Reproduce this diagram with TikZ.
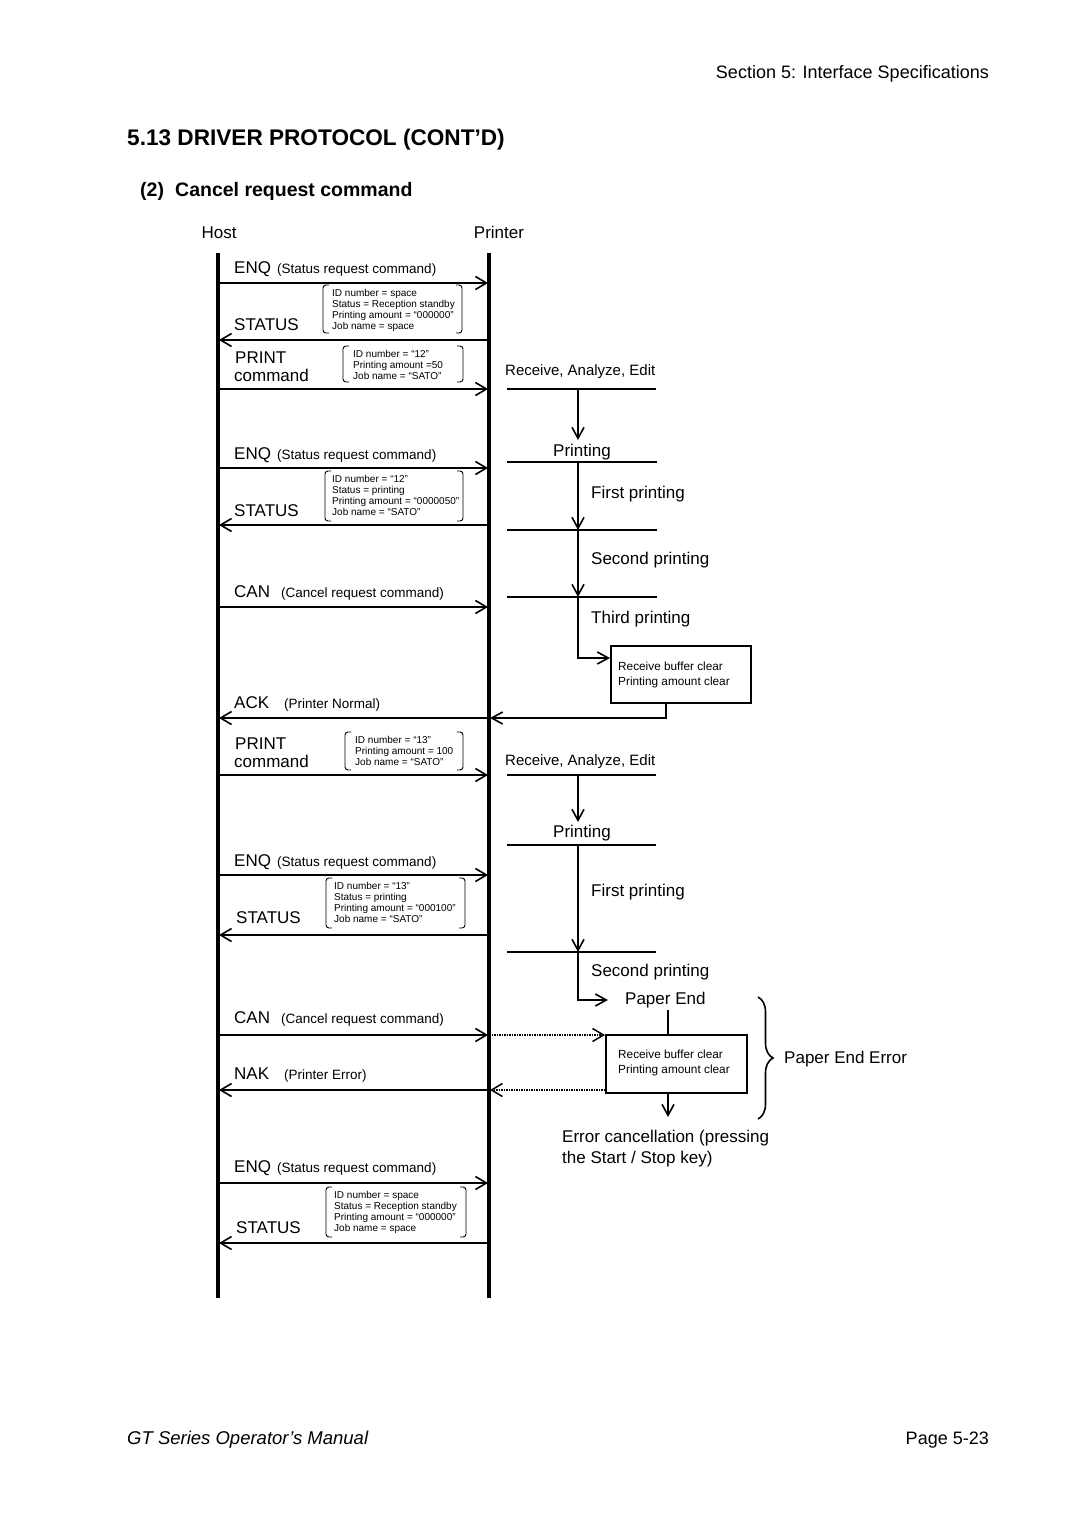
\documentclass[tikz,border=0pt]{standalone}
\usepackage{fontspec}
\setmainfont{Liberation Sans}
\usetikzlibrary{arrows.meta,decorations.pathreplacing}
\newcommand\brbox[7]{%
  \draw[brk] ({#2+6},#3) -- (#2,#3) -- (#2,#5) -- ({#2+6},#5);
  \draw[brk] ({#4-6},#3) -- (#4,#3) -- (#4,#5) -- ({#4-6},#5);
  \foreach \t [count=\i from 0] in {#7} \node[tiny] (#1-\i) at (#6,{#3+11.5+11*\i}) {\t};
}
\begin{document}
\begin{tikzpicture}[x=1pt,y=-1pt,
  life/.style={line width=3.2pt},
  msg/.style={line width=1.6pt,-{Straight Barb[length=11pt,width=13pt]},shorten >=1pt},
  flow/.style={line width=1.6pt},
  farr/.style={line width=1.6pt,-{Straight Barb[length=11pt,width=12pt]}},
  dotarr/.style={line width=1.5pt,densely dotted,-{Straight Barb[length=11pt,width=13pt,sep=0pt]}},
  brk/.style={line width=0.9pt,rounded corners=3pt},
  lbl/.style={font=\fontsize{17}{20}\selectfont,anchor=base west,inner sep=0},
  sub/.style={font=\fontsize{13.5}{16}\selectfont,anchor=base west,inner sep=0},
  tiny/.style={font=\fontsize{10}{11}\selectfont,anchor=base west,inner sep=0},
  rtxt/.style={font=\fontsize{15}{18}\selectfont,anchor=base west,inner sep=0},
  btxt/.style={font=\fontsize{11.8}{14}\selectfont,anchor=base west,inner sep=0},
  rbox/.style={draw,line width=1.6pt,anchor=north west,inner sep=0}
]
\useasboundingbox (0,0) rectangle (1080,1528);
\fill[white] (0,0) rectangle (1080,1528);

% header / footer
\node[font=\fontsize{18}{21}\selectfont,anchor=base east,inner sep=0] (hdr) at (989,78) {Section 5: Interface Specifications};
\node[font=\fontsize{22.6}{26}\selectfont\bfseries,anchor=base west,inner sep=0] (title) at (127,145) {5.13 DRIVER PROTOCOL (CONT’D)};
\node[font=\fontsize{19.5}{23}\selectfont\bfseries,anchor=base west,inner sep=0] (subn) at (140,196) {(2)};
\node[font=\fontsize{19.5}{23}\selectfont\bfseries,anchor=base west,inner sep=0] (subt) at (175,196) {Cancel request command};
\node[font=\fontsize{18.5}{22}\selectfont\itshape,anchor=base west,inner sep=0] (foot) at (127,1444) {GT Series Operator’s Manual};
\node[font=\fontsize{18}{21}\selectfont,anchor=base east,inner sep=0] (page) at (989,1444) {Page 5-23};

% lifelines
\node[lbl,anchor=base] (host) at (219,238) {Host};
\node[lbl,anchor=base] (prn) at (499,238) {Printer};
\coordinate (hT) at (218,253); \coordinate (hB) at (218,1298);
\coordinate (pT) at (489,253); \coordinate (pB) at (489,1298);
\draw[life] (hT) -- (hB);
\draw[life] (pT) -- (pB);

% message coordinates
\foreach \n/\y in {1/283,2/340,3/389,4/468,5/525,6/607,7/718,8/775,9/875,10/935,11/1035,12/1090,13/1183,14/1243}{
  \coordinate (h\n) at (218,\y); \coordinate (p\n) at (489,\y);}
\foreach \n in {1,3,4,6,8,9,11,13} \draw[msg] (h\n) -- (p\n);
\foreach \n in {2,5,7,10,12,14} \draw[msg] (p\n) -- (h\n);

% message labels
\node[lbl] (enq1) at (234,273) {ENQ};   \node[sub] (enq1s) at (277,273) {(Status request command)};
\node[lbl] (st1) at (234,330) {STATUS};
\brbox{b1}{323}{285}{462}{333}{332}{ID number = space,Status = Reception standby,Printing amount = “000000”,Job name = space}
\node[lbl] (pr1) at (235,363) {PRINT};  \node[lbl] (pr1c) at (234,381) {command};
\brbox{b2}{343}{346}{463}{382}{353}{ID number = “12”,Printing amount =50,Job name = “SATO”}
\node[lbl] (enq2) at (234,459) {ENQ};   \node[sub] (enq2s) at (277,459) {(Status request command)};
\node[lbl] (st2) at (234,516) {STATUS};
\brbox{b3}{325}{471}{463}{521}{332}{ID number = “12”,Status = printing,Printing amount = “0000050”,Job name = “SATO”}
\node[lbl] (can1) at (234,597) {CAN};   \node[sub] (can1s) at (281,597) {(Cancel request command)};
\node[lbl] (ack) at (234,708) {ACK};    \node[sub] (acks) at (284,708) {(Printer Normal)};
\node[lbl] (pr2) at (235,749) {PRINT};  \node[lbl] (pr2c) at (234,767) {command};
\brbox{b4}{345}{732}{463}{770}{355}{ID number = “13”,Printing amount = 100,Job name = “SATO”}
\node[lbl] (enq3) at (234,866) {ENQ};   \node[sub] (enq3s) at (277,866) {(Status request command)};
\node[lbl] (st3) at (236,923) {STATUS};
\brbox{b5}{326}{878}{465}{928}{334}{ID number = “13”,Status = printing,Printing amount = “000100”,Job name = “SATO”}
\node[lbl] (can2) at (234,1023) {CAN};  \node[sub] (can2s) at (281,1023) {(Cancel request command)};
\node[lbl] (nak) at (234,1079) {NAK};   \node[sub] (naks) at (284,1079) {(Printer Error)};
\node[lbl] (enq4) at (234,1172) {ENQ};  \node[sub] (enq4s) at (277,1172) {(Status request command)};
\node[lbl] (st4) at (236,1233) {STATUS};
\brbox{b6}{326}{1187}{466}{1237}{334}{ID number = space,Status = Reception standby,Printing amount = “000000”,Job name = space}

% right flow, first job
\node[rtxt] (rae1) at (505,375) {Receive, Analyze, Edit};
\coordinate (s1l) at (507,389); \coordinate (s1r) at (656,389);
\coordinate (s2l) at (507,462); \coordinate (s2r) at (657,462);
\coordinate (s3l) at (507,530); \coordinate (s3r) at (657,530);
\coordinate (s4l) at (507,597); \coordinate (s4r) at (657,597);
\foreach \s in {1,2,3,4} \draw[flow] (s\s l) -- (s\s r);
\coordinate (v1a) at (578,389); \coordinate (v1b) at (578,440);
\coordinate (v2a) at (578,462); \coordinate (v2b) at (578,530);
\coordinate (v3a) at (578,530); \coordinate (v3b) at (578,597);
\coordinate (v4a) at (578,597); \coordinate (v4k) at (578,658);
\draw[farr] (v1a) -- (v1b);
\draw[farr] (v2a) -- (v2b);
\draw[farr] (v3a) -- (v3b);
\node[lbl,anchor=base] (ptg1) at (582,456) {Printing};
\node[lbl] (fp1) at (591,498) {First printing};
\node[lbl] (sp1) at (591,564) {Second printing};
\node[lbl] (tp1) at (591,623) {Third printing};
\node[rbox,minimum width=140pt,minimum height=57pt] (rb1) at (610,645) {};
\node[btxt] (rb1a) at (618,670) {Receive buffer clear};
\node[btxt] (rb1b) at (618,685) {Printing amount clear};
\draw[farr] (v4a) -- (v4k) -- (rb1.west |- v4k);
\coordinate (rb1o) at (666,702);
\draw[farr,shorten >=1pt] (rb1o) -- (666,718) -- (p7);

% right flow, second job
\node[rtxt] (rae2) at (505,765) {Receive, Analyze, Edit};
\coordinate (t1l) at (507,775); \coordinate (t1r) at (656,775);
\coordinate (t2l) at (507,845); \coordinate (t2r) at (656,845);
\coordinate (t3l) at (507,952); \coordinate (t3r) at (656,952);
\foreach \s in {1,2,3} \draw[flow] (t\s l) -- (t\s r);
\coordinate (w1a) at (578,775); \coordinate (w1b) at (578,822);
\coordinate (w2a) at (578,845); \coordinate (w2b) at (578,952);
\coordinate (w3a) at (578,952); \coordinate (w3k) at (578,1000); \coordinate (w3b) at (608,1000);
\draw[farr] (w1a) -- (w1b);
\draw[farr] (w2a) -- (w2b);
\draw[farr] (w3a) -- (w3k) -- (w3b);
\node[lbl,anchor=base] (ptg2) at (582,837) {Printing};
\node[lbl] (fp2) at (591,896) {First printing};
\node[lbl] (sp2) at (591,976) {Second printing};
\node[lbl] (pe) at (625,1004) {Paper End};
\node[rbox,minimum width=141pt,minimum height=58pt] (rb2) at (605,1034) {};
\node[btxt] (rb2a) at (618,1058) {Receive buffer clear};
\node[btxt] (rb2b) at (618,1073) {Printing amount clear};
\coordinate (pe1) at (668,1010); \coordinate (pe2) at (668,1034);
\draw[flow] (pe1) -- (pe2);
\draw[dotarr] (p11) -- (rb2.west |- p11);
\draw[dotarr,shorten >=1pt] (rb2.west |- p12) -- (p12);
\coordinate (ec1) at (668,1092); \coordinate (ec2) at (668,1117);
\draw[farr] (ec1) -- (ec2);
\coordinate (brt) at (758,997); \coordinate (brb) at (758,1119);
\draw[flow,decorate,decoration={brace,amplitude=15pt,aspect=0.5}] (brt) -- (brb);
\node[lbl] (pee) at (784,1063) {Paper End Error};
\node[lbl] (ec) at (562,1142) {Error cancellation (pressing};
\node[lbl] (ec2t) at (562,1163) {the Start / Stop key)};
\end{tikzpicture}
\end{document}
